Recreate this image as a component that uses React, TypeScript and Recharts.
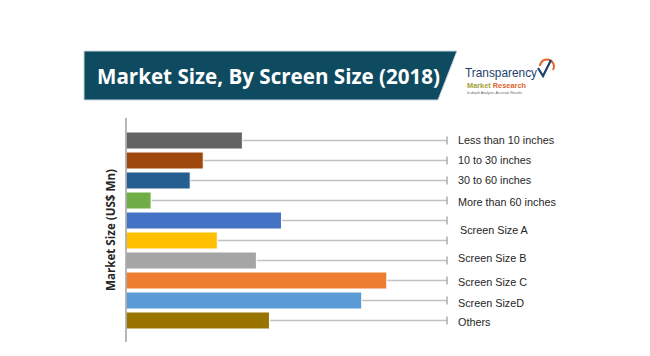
import React from "react";
import { BarChart, Bar, XAxis, YAxis, Cell } from "recharts";

const categories = [
  "Less than 10 inches",
  "10 to 30 inches",
  "30 to 60 inches",
  "More than 60 inches",
  "Screen Size A",
  "",
  "Screen Size B",
  "Screen Size C",
  "Screen SizeD",
  "Others",
];
const values = [116, 77, 64, 25, 155, 91, 130, 260, 235, 143];
const colors = [
  "#636363",
  "#9e480e",
  "#255e91",
  "#70ad47",
  "#4472c4",
  "#ffc000",
  "#a5a5a5",
  "#ed7d31",
  "#5b9bd5",
  "#997300",
];

const data = categories.map((name, i) => ({ key: `c${i}`, name, value: values[i] }));

// small nudges so labels sit where they do in the source image
const labelNudge: Record<string, number> = {
  "More than 60 inches": 2,
  "Screen Size A": 10,
  "Screen Size B": -2,
  "Screen Size C": 2,
  "Screen SizeD": 3,
  Others: 2,
};

const font = "'Liberation Sans', Arial, sans-serif";

function Leader(props: any) {
  const { x, y, width, height } = props;
  const cy = y + height / 2;
  const end = x + width;
  return (
    <g>
      <line x1={x} y1={cy} x2={end} y2={cy} stroke="#c3c3c3" strokeWidth={1.6} />
      <line x1={end} y1={cy - 4} x2={end} y2={cy + 4} stroke="#9a9a9a" strokeWidth={1.2} />
    </g>
  );
}

function RightTick(props: any) {
  const { x, y, index } = props;
  const label = categories[index];
  if (!label) return null;
  const dy = labelNudge[label] || 0;
  const dx = label === "Screen Size A" ? 5 : 3;
  return (
    <text
      x={x + dx}
      y={y + dy}
      dy="0.35em"
      textAnchor="start"
      fontFamily={font}
      fontSize={10.8}
      fill="#262626"
    >
      {label}
    </text>
  );
}

function Banner() {
  return (
    <svg width={650} height={120} style={{ position: "absolute", left: 0, top: 0 }}>
      <polygon
        points="84,51 457,51 438,100 84,100"
        fill="#0f4b60"
        stroke="#c9d7df"
        strokeWidth={1}
      />
      <text
        x={97}
        y={84}
        fill="#ffffff"
        fontFamily="'Open Sans', sans-serif"
        fontWeight={700}
        fontSize={21}
        textLength={343}
        lengthAdjust="spacingAndGlyphs"
      >
        Market Size, By Screen Size (2018)
      </text>
      <text
        x={465}
        y={77}
        fill="#1d3f6b"
        fontFamily={font}
        fontSize={13}
        textLength={72}
        lengthAdjust="spacingAndGlyphs"
      >
        Transparency
      </text>
      <path d="M540,66 A7,7 0 1,1 553,70" fill="none" stroke="#e8622a" strokeWidth={2} />
      <path d="M538,68 L543,76 L551,60" fill="none" stroke="#1d3f6b" strokeWidth={2.2} />
      <text x={467} y={87.5} fontFamily={font} fontSize={8} fontWeight={700} textLength={59} lengthAdjust="spacingAndGlyphs">
        <tspan fill="#a3a33a">Market </tspan>
        <tspan fill="#e0622c">Research</tspan>
      </text>
      <text x={467} y={94} fontFamily={font} fontSize={3.5} fill="#666" textLength={55} lengthAdjust="spacingAndGlyphs">
        In-depth Analysis, Accurate Results
      </text>
    </svg>
  );
}

export default function App() {
  return (
    <div
      style={{
        position: "fixed",
        left: 0,
        top: 0,
        width: 650,
        height: 356,
        background: "#ffffff",
        overflow: "hidden",
      }}
    >
      <Banner />
      <div style={{ position: "absolute", left: 0, top: 0 }}>
        <BarChart
          width={650}
          height={356}
          data={data}
          layout="vertical"
          margin={{ top: 118, right: 0, bottom: 14, left: 110 }}
          barCategoryGap={3}
        >
          <XAxis type="number" domain={[0, 320]} hide />
          <YAxis
            yAxisId="left"
            type="category"
            dataKey="key"
            width={16}
            tick={false}
            tickLine={false}
            axisLine={{ stroke: "#a0a0a0", strokeWidth: 1.5 }}
            padding={{ top: 12, bottom: 12 }}
            label={{
              value: "Market Size (US$ Mn)",
              angle: -90,
              position: "insideLeft",
              offset: 1,
              style: {
                fontFamily: "'Open Sans', sans-serif",
                fontWeight: 700,
                fontSize: 11.6,
                fill: "#262626",
                textAnchor: "middle",
              },
            }}
          />
          <YAxis
            yAxisId="right"
            orientation="right"
            type="category"
            dataKey="key"
            width={203}
            axisLine={false}
            tickLine={false}
            tick={<RightTick />}
            interval={0}
            padding={{ top: 12, bottom: 12 }}
          />
          <Bar
            yAxisId="left"
            dataKey="value"
            barSize={17}
            stroke="#ffffff"
            strokeWidth={1}
            background={<Leader />}
            isAnimationActive={false}
          >
            {data.map((d, i) => (
              <Cell key={d.key} fill={colors[i]} />
            ))}
          </Bar>
        </BarChart>
      </div>
    </div>
  );
}
